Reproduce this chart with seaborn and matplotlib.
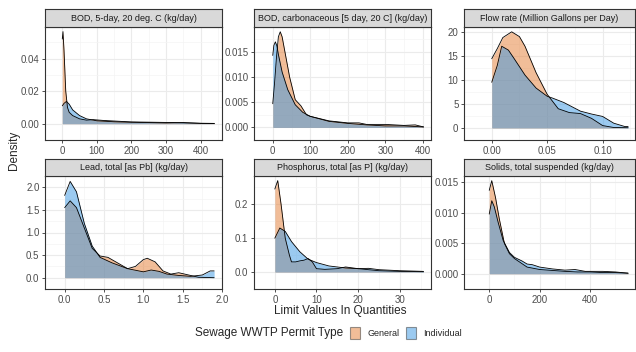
import numpy as np
import matplotlib
matplotlib.use("Agg")
import matplotlib.pyplot as plt
import seaborn as sns
from matplotlib.patches import Patch

# density curves (x, density) for each permit type
bod5_gen_x = [0, 2, 5, 10, 15, 20, 30, 50, 70, 90, 120, 200, 300, 400, 440]
bod5_gen_y = [0.052, 0.0566, 0.045, 0.02, 0.01, 0.007, 0.005, 0.003, 0.0022, 0.0025, 0.002, 0.0011, 0.0008, 0.0003, 0.0002]
bod5_ind_x = [0, 5, 12, 20, 30, 50, 70, 100, 150, 200, 300, 350, 400, 440]
bod5_ind_y = [0.011, 0.0125, 0.0137, 0.012, 0.0085, 0.005, 0.003, 0.0018, 0.0012, 0.0009, 0.0005, 0.0007, 0.0002, 0.0001]

bodc_gen_x = [0, 5, 10, 15, 20, 25, 30, 45, 60, 75, 90, 100, 150, 200, 230, 250, 300, 350, 380, 402]
bodc_gen_y = [0.0047, 0.009, 0.014, 0.018, 0.019, 0.018, 0.016, 0.01, 0.0055, 0.0043, 0.0025, 0.0022, 0.0013, 0.0009, 0.0009, 0.0006, 0.0006, 0.0004, 0.0005, 0.0001]
bodc_ind_x = [0, 3, 7, 11, 15, 25, 40, 60, 80, 100, 150, 200, 250, 300, 350, 402]
bodc_ind_y = [0.0143, 0.0163, 0.017, 0.0162, 0.0145, 0.011, 0.0075, 0.0045, 0.003, 0.0022, 0.0012, 0.0008, 0.0005, 0.0003, 0.0003, 0.0001]

flow_gen_x = [0, 0.005, 0.01, 0.018, 0.025, 0.03, 0.04, 0.05, 0.06, 0.07, 0.08, 0.09, 0.1, 0.11, 0.123]
flow_gen_y = [14.4, 16.5, 18.8, 20, 19, 17, 11.5, 7, 4.0, 3.2, 3.0, 2.0, 0.5, 0.1, 0.05]
flow_ind_x = [0, 0.005, 0.009, 0.015, 0.02, 0.03, 0.04, 0.05, 0.055, 0.065, 0.08, 0.09, 0.1, 0.11, 0.12, 0.123]
flow_ind_y = [9.5, 13, 17, 16.2, 14.5, 11, 8.3, 6.6, 6.2, 5.3, 3.5, 2.9, 2.4, 1.0, 0.3, 0.3]

lead_gen_x = [0, 0.07, 0.15, 0.25, 0.35, 0.45, 0.55, 0.65, 0.8, 0.9, 1.0, 1.05, 1.15, 1.25, 1.35, 1.45, 1.55, 1.7, 1.9]
lead_gen_y = [1.55, 1.7, 1.55, 1.1, 0.65, 0.48, 0.45, 0.35, 0.2, 0.25, 0.4, 0.43, 0.35, 0.15, 0.08, 0.11, 0.07, 0.01, 0.0]
lead_ind_x = [0, 0.07, 0.15, 0.25, 0.35, 0.45, 0.6, 0.8, 1.0, 1.1, 1.2, 1.3, 1.45, 1.6, 1.75, 1.85, 1.9]
lead_ind_y = [1.82, 2.13, 1.9, 1.2, 0.7, 0.45, 0.33, 0.2, 0.13, 0.17, 0.14, 0.08, 0.05, 0.03, 0.06, 0.15, 0.15]

phos_gen_x = [0, 0.7, 1.5, 2.5, 3.5, 4, 5, 6, 7, 8, 9, 10, 12, 15, 17, 20, 25, 30, 35.7]
phos_gen_y = [0.245, 0.27, 0.2, 0.1, 0.05, 0.03, 0.03, 0.033, 0.035, 0.04, 0.03, 0.01, 0.008, 0.01, 0.015, 0.01, 0.004, 0.002, 0.001]
phos_ind_x = [0, 1.2, 2.5, 4, 6, 8, 10, 13, 17, 20, 22.5, 25, 30, 35.7]
phos_ind_y = [0.1, 0.13, 0.12, 0.09, 0.06, 0.038, 0.028, 0.018, 0.012, 0.01, 0.011, 0.007, 0.004, 0.002]

tss_gen_x = [0, 10, 25, 40, 60, 80, 100, 150, 200, 300, 350, 400, 450, 500, 550]
tss_gen_y = [0.0137, 0.0153, 0.0125, 0.009, 0.005, 0.0033, 0.0025, 0.0011, 0.0007, 0.0004, 0.0003, 0.0003, 0.0002, 0.0002, 0.0001]
tss_ind_x = [0, 10, 20, 35, 55, 80, 100, 130, 150, 170, 200, 250, 300, 340, 380, 450, 500, 550]
tss_ind_y = [0.0098, 0.012, 0.011, 0.0085, 0.0055, 0.0035, 0.0027, 0.0021, 0.0016, 0.0015, 0.0011, 0.0008, 0.0006, 0.0007, 0.0004, 0.0004, 0.0003, 0.0001]

titles = ["BOD, 5-day, 20 deg. C (kg/day)", "BOD, carbonaceous [5 day, 20 C] (kg/day)",
          "Flow rate (Million Gallons per Day)", "Lead, total [as Pb] (kg/day)",
          "Phosphorus, total [as P] (kg/day)", "Solids, total suspended (kg/day)"]
groups = ["General", "Individual"]

panels = [
    (bod5_gen_x, bod5_gen_y, bod5_ind_x, bod5_ind_y, [0, 100, 200, 300, 400], [0, 0.02, 0.04], "{:.2f}", (-22, 462)),
    (bodc_gen_x, bodc_gen_y, bodc_ind_x, bodc_ind_y, [0, 100, 200, 300, 400], [0, 0.005, 0.01, 0.015], "{:.3f}", (-20, 422)),
    (flow_gen_x, flow_gen_y, flow_ind_x, flow_ind_y, [0, 0.05, 0.1], [0, 5, 10, 15, 20], "{:.0f}", (-0.0062, 0.1292)),
    (lead_gen_x, lead_gen_y, lead_ind_x, lead_ind_y, [0, 0.5, 1.0, 1.5, 2.0], [0, 0.5, 1.0, 1.5, 2.0], "{:.1f}", (-0.095, 2.0)),
    (phos_gen_x, phos_gen_y, phos_ind_x, phos_ind_y, [0, 10, 20, 30], [0, 0.1, 0.2], "{:.1f}", (-1.8, 37.5)),
    (tss_gen_x, tss_gen_y, tss_ind_x, tss_ind_y, [0, 200, 400], [0, 0.005, 0.01, 0.015], "{:.3f}", (-27.5, 577.5)),
]

sns.set_theme(style="whitegrid")
plt.rcParams['font.family'] = ['Liberation Sans', 'DejaVu Sans']

gen_col = "#E57D33"
ind_col = "#3997E3"

W, H = 636, 352
fig = plt.figure(figsize=(W / 100, H / 100), dpi=100)

cols = [(45, 222), (254, 431), (464, 635)]
rows = [(9, 27, 140), (159, 176, 289)]

for i, (gx, gy, ix, iy, xt, yt, yfmt, xlim) in enumerate(panels):
    c0, c1 = cols[i % 3]
    s0, p0, p1 = rows[i // 3]
    ax = fig.add_axes([c0 / W, 1 - p1 / H, (c1 - c0) / W, (p1 - p0) / H])
    ax.fill_between(gx, 0, gy, color=gen_col, alpha=0.5, lw=0)
    sns.lineplot(x=gx, y=gy, color="black", lw=0.6, ax=ax, sort=False)
    ax.fill_between(ix, 0, iy, color=ind_col, alpha=0.5, lw=0)
    sns.lineplot(x=ix, y=iy, color="black", lw=0.6, ax=ax, sort=False)

    ymax = max(max(gy), max(iy))
    ax.set_xlim(*xlim)
    ax.set_ylim(-0.05 * ymax, 1.05 * ymax)
    ax.set_xticks(xt)
    ax.set_yticks(yt)
    ax.set_yticklabels([yfmt.format(v) for v in yt])
    xstep = xt[1] - xt[0]
    ystep = yt[1] - yt[0]
    ax.set_xticks(np.arange(xt[0] - xstep / 2, xlim[1], xstep), minor=True)
    ax.set_yticks(np.arange(yt[0] - ystep / 2, ymax * 1.1, ystep), minor=True)
    ax.grid(which="major", color="#EBEBEB", lw=0.8)
    ax.grid(which="minor", color="#F4F4F4", lw=0.5)
    ax.set_axisbelow(True)
    ax.tick_params(which="major", length=2.5, width=0.6, color="#333333", labelsize=7,
                   labelcolor="#4D4D4D", pad=1.5, bottom=True, left=True)
    ax.tick_params(which="minor", length=0)
    for sp in ax.spines.values():
        sp.set_color("#333333")
        sp.set_linewidth(0.8)
    ax.set_xlabel("")
    ax.set_ylabel("")

    sax = fig.add_axes([c0 / W, 1 - p0 / H, (c1 - c0) / W, (p0 - s0) / H])
    sax.set_facecolor("#D9D9D9")
    sax.set_xticks([])
    sax.set_yticks([])
    sax.grid(False)
    for sp in sax.spines.values():
        sp.set_color("#333333")
        sp.set_linewidth(0.8)
    sax.text(0.5, 0.48, titles[i], ha="center", va="center", fontsize=6.5, color="#1A1A1A",
             transform=sax.transAxes)

fig.text(14 / W, 1 - 150 / H, "Density", rotation=90, ha="center", va="center", fontsize=8.5)
fig.text(340 / W, 1 - 311 / H, "Limit Values In Quantities", ha="center", va="center", fontsize=8.5)

fig.text(343 / W, 1 - 333 / H, "Sewage WWTP Permit Type", ha="right", va="center", fontsize=8.5)
handles = [Patch(facecolor=gen_col, alpha=0.5, lw=0.8),
           Patch(facecolor=ind_col, alpha=0.5, lw=0.8)]
for h in handles:
    h.set_edgecolor((0.2, 0.2, 0.2, 1))
fig.legend(handles, groups, loc="center left", bbox_to_anchor=(350 / W, 1 - 333 / H), ncol=2,
           frameon=False, fontsize=6.5, handlelength=1.1, handleheight=1.6, handletextpad=0.8,
           columnspacing=0.8, borderpad=0, borderaxespad=0)

fig.savefig("out.png", dpi=100)
